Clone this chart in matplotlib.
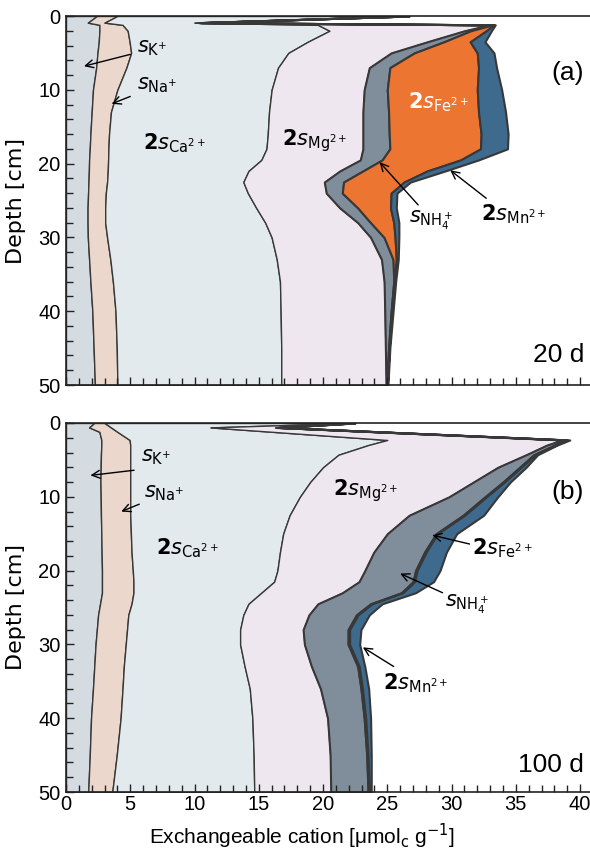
import numpy as np
import matplotlib
matplotlib.use('Agg')
import matplotlib.pyplot as plt
from matplotlib.ticker import MultipleLocator

plt.rcParams['font.family'] = ['Liberation Sans', 'DejaVu Sans']
plt.rcParams['mathtext.fontset'] = 'dejavusans'

# ---------------- panel (a): 20 d ----------------
depth_a = [0, 0.9, 1.2, 2, 3.5, 5, 7, 10, 13, 16, 18, 19.5, 21, 22.5, 24, 26, 28, 30, 33, 36, 40, 45, 50]
K_a   = [2.4, 1.7, 2.6, 2.6, 2.55, 2.45, 2.35, 2.1, 2.0, 1.9, 1.85, 1.8, 1.78, 1.75, 1.72, 1.68, 1.68, 1.7, 1.8, 1.9, 2.05, 2.15, 2.25]
Na_a  = [1.6, 1.3, 1.8, 2.2, 2.4, 2.62, 2.35, 1.9, 1.5, 1.45, 1.45, 1.48, 1.47, 1.45, 1.38, 1.37, 1.37, 1.5, 1.65, 1.75, 1.8, 1.8, 1.75]
Ca_a  = [22.5, 7.0, 15.2, 15.7, 13.85, 12.23, 11.8, 12.0, 12.3, 12.35, 12.3, 11.92, 10.95, 10.6, 11.05, 11.75, 12.45, 12.8, 12.95, 13.0, 12.85, 12.8, 12.75]
Mg_a  = [0.1, 0.3, 13.4, 10.5, 9.3, 8.0, 7.1, 7.2, 7.3, 7.4, 7.5, 7.7, 7.1, 6.3, 6.1, 6.5, 7.2, 7.7, 8.15, 8.1, 8.1, 8.1, 8.15]
NH4_a = [0.0, 0.1, 0.2, 0.5, 1.3, 1.8, 1.6, 1.8, 2.0, 2.05, 2.1, 1.7, 1.8, 1.5, 1.25, 1.4, 1.0, 1.05, 0.9, 0.75, 0.5, 0.25, 0.05]
Fe_a  = [0.1, 0.1, 0.1, 1.2, 2.05, 4.9, 6.9, 7.0, 7.0, 7.15, 7.05, 6.1, 5.0, 4.7, 3.8, 2.55, 1.8, 0.85, 0.25, 0.05, 0.05, 0.05, 0.05]
Mn_a  = [0.0, 0.1, 0.1, 0.4, 1.15, 1.3, 1.4, 1.9, 2.1, 2.1, 2.1, 1.4, 1.4, 0.5, 0.45, 0.45, 0.4, 0.3, 0.15, 0.1, 0.1, 0.05, 0.05]

# ---------------- panel (b): 100 d ----------------
depth_b = [0, 0.6, 1.2, 2.3, 3, 4.3, 6, 8, 10, 12.5, 15, 17.5, 20, 21.5, 23, 24.5, 26, 28, 30, 33, 36, 40, 45, 50]
K_b   = [2.2, 1.8, 2.6, 2.75, 2.75, 2.72, 2.7, 2.68, 2.7, 2.72, 2.75, 2.77, 2.8, 2.8, 2.8, 2.65, 2.5, 2.4, 2.3, 2.2, 2.1, 1.95, 1.85, 1.73]
Na_b  = [0.8, 1.7, 1.4, 2.2, 2.25, 2.28, 2.3, 2.32, 2.3, 2.28, 2.3, 2.33, 2.4, 2.45, 2.45, 2.45, 2.35, 2.35, 2.35, 2.3, 2.3, 2.3, 2.1, 1.87]
Ca_b  = [19.0, 7.75, 12.1, 20.05, 18.5, 16.2, 15.0, 14.0, 13.2, 12.4, 11.85, 11.55, 11.25, 10.95, 9.95, 9.1, 8.95, 8.8, 8.9, 9.4, 9.9, 10.25, 10.65, 11.05]
Mg_b  = [0.2, 5.05, 8.1, 13.6, 13.9, 14.6, 13.6, 12.7, 11.6, 9.3, 8.1, 7.3, 6.8, 6.6, 6.3, 5.4, 5.1, 4.9, 5.0, 5.2, 5.5, 5.85, 5.95, 5.95]
NH4_b = [0.1, 0.2, 0.2, 0.3, 0.6, 0.6, 1.7, 2.3, 2.8, 4.2, 3.8, 3.95, 3.95, 4.2, 4.6, 4.1, 3.7, 3.5, 3.4, 3.6, 3.15, 2.85, 2.85, 2.9]
Fe_b  = [0.05, 0.05, 0.05, 0.1, 0.1, 0.12, 0.12, 0.12, 0.12, 0.12, 0.12, 0.12, 0.12, 0.12, 0.12, 0.12, 0.12, 0.12, 0.12, 0.12, 0.12, 0.12, 0.1, 0.1]
Mn_b  = [0.15, 0.15, 0.15, 0.2, 0.1, 0.18, 0.38, 0.45, 0.88, 1.48, 1.48, 1.58, 1.78, 1.48, 0.98, 0.78, 0.88, 0.88, 0.78, 0.43, 0.48, 0.38, 0.25, 0.15]

colors = ['#d5dce1', '#ebd7cb', '#e2eaed', '#efe7ef', '#808d9a', '#ec7532', '#3e6a8e']
lws = [1.0, 1.0, 1.0, 1.0, 1.5, 1.5, 1.5]
edge = '#383838'

W, H = 590, 863
fig = plt.figure(figsize=(W / 100, H / 100), dpi=100)
ax1 = fig.add_axes([66 / W, 1 - 385 / H, 525 / W, 369 / H])
ax2 = fig.add_axes([66 / W, 1 - 792 / H, 525 / W, 369 / H])


def draw(ax, depth, comps):
    d = np.array(depth, dtype=float)
    cum = np.zeros(len(d))
    for vals, col, lw in zip(comps, colors, lws):
        new = cum + np.array(vals, dtype=float)
        ax.fill_betweenx(d, cum, new, facecolor=col, edgecolor=edge, linewidth=lw)
        cum = new


draw(ax1, depth_a, [K_a, Na_a, Ca_a, Mg_a, NH4_a, Fe_a, Mn_a])
draw(ax2, depth_b, [K_b, Na_b, Ca_b, Mg_b, NH4_b, Fe_b, Mn_b])

for ax in (ax1, ax2):
    ax.set_xlim(0, 40.85)
    ax.set_ylim(50, 0)
    ax.xaxis.set_major_locator(MultipleLocator(5))
    ax.xaxis.set_minor_locator(MultipleLocator(1))
    ax.yaxis.set_major_locator(MultipleLocator(10))
    ax.yaxis.set_minor_locator(MultipleLocator(2))
    ax.tick_params(which='both', direction='in', top=False, right=False, labelsize=14.5,
                   color='#222222', pad=2)
    ax.tick_params(axis='y', which='both', pad=4)
    ax.tick_params(which='major', length=6, width=1.0)
    ax.tick_params(which='minor', length=5, width=1.0)
    for s in ax.spines.values():
        s.set_linewidth(1.2)
        s.set_color('#222222')
    ax.set_ylabel('Depth [cm]', fontsize=16, family='DejaVu Sans')
    ax.yaxis.set_label_coords(-0.077, 0.5)

ax1.tick_params(labelbottom=False)
ax2.set_xlabel(r'Exchangeable cation [μmol$_\mathrm{c}$ g$^{-1}$]', fontsize=15)
ax2.xaxis.set_label_coords(0.45, -0.08)

fs = 15
arrow = dict(arrowstyle='->', color='black', lw=1.0, mutation_scale=14, shrinkA=0, shrinkB=0)

# panel (a) annotations
ax1.text(5.5, 4.3, r'$s_{\mathrm{K}^{+}}$', fontsize=fs, ha='left', va='center')
ax1.annotate('', xy=(1.4, 6.8), xytext=(5.0, 5.2), arrowprops=arrow)
ax1.text(5.5, 9.4, r'$s_{\mathrm{Na}^{+}}$', fontsize=fs, ha='left', va='center')
ax1.annotate('', xy=(3.55, 11.9), xytext=(5.0, 10.9), arrowprops=arrow)
ax1.text(6.0, 17.3, r'$\mathbf{2}s_{\mathrm{Ca}^{2+}}$', fontsize=fs, ha='left', va='center')
ax1.text(16.8, 16.9, r'$\mathbf{2}s_{\mathrm{Mg}^{2+}}$', fontsize=fs, ha='left', va='center')
ax1.text(26.6, 11.7, r'$\mathbf{2}s_{\mathrm{Fe}^{2+}}$', fontsize=fs, ha='left', va='center', color='white')
ax1.text(26.7, 27.6, r'$s_{\mathrm{NH}_4^+}$', fontsize=fs, ha='left', va='center')
ax1.annotate('', xy=(24.4, 19.8), xytext=(27.4, 25.6), arrowprops=arrow)
ax1.text(32.3, 26.9, r'$\mathbf{2}s_{\mathrm{Mn}^{2+}}$', fontsize=fs, ha='left', va='center')
ax1.annotate('', xy=(29.9, 20.9), xytext=(32.7, 24.7), arrowprops=arrow)
ax1.text(40.3, 7.7, '(a)', fontsize=19, ha='right', va='center')
ax1.text(40.3, 46.0, '20 d', fontsize=19, ha='right', va='center')

# panel (b) annotations
ax2.text(5.85, 4.7, r'$s_{\mathrm{K}^{+}}$', fontsize=fs, ha='left', va='center')
ax2.annotate('', xy=(1.9, 7.1), xytext=(5.3, 6.4), arrowprops=arrow)
ax2.text(6.1, 9.5, r'$s_{\mathrm{Na}^{+}}$', fontsize=fs, ha='left', va='center')
ax2.annotate('', xy=(4.3, 12.0), xytext=(5.7, 11.0), arrowprops=arrow)
ax2.text(7.0, 16.9, r'$\mathbf{2}s_{\mathrm{Ca}^{2+}}$', fontsize=fs, ha='left', va='center')
ax2.text(20.8, 9.2, r'$\mathbf{2}s_{\mathrm{Mg}^{2+}}$', fontsize=fs, ha='left', va='center')
ax2.text(31.6, 17.0, r'$\mathbf{2}s_{\mathrm{Fe}^{2+}}$', fontsize=fs, ha='left', va='center')
ax2.annotate('', xy=(28.5, 15.2), xytext=(31.4, 16.4), arrowprops=arrow)
ax2.text(29.5, 24.5, r'$s_{\mathrm{NH}_4^+}$', fontsize=fs, ha='left', va='center')
ax2.annotate('', xy=(26.0, 20.4), xytext=(29.3, 23.0), arrowprops=arrow)
ax2.text(24.7, 35.2, r'$\mathbf{2}s_{\mathrm{Mn}^{2+}}$', fontsize=fs, ha='left', va='center')
ax2.annotate('', xy=(23.1, 30.4), xytext=(25.5, 33.0), arrowprops=arrow)
ax2.text(40.3, 9.4, '(b)', fontsize=19, ha='right', va='center')
ax2.text(40.3, 46.3, '100 d', fontsize=19, ha='right', va='center')

fig.savefig('out.png', dpi=100)
